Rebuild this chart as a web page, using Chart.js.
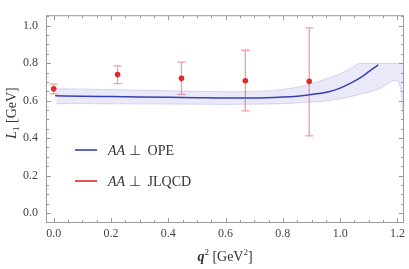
<!DOCTYPE html>
<html>
<head>
<meta charset="utf-8">
<script src="https://cdn.jsdelivr.net/npm/chart.js@4"></script>
<style>
  html, body { margin: 0; padding: 0; background: #fff; }
  #wrap { width: 409px; height: 269px; }
</style>
</head>
<body>
<div id="wrap"><canvas id="chart"></canvas></div>
<script>
// lattice points (JLQCD) with error bars
const qPts = [0, 0.223, 0.446, 0.669, 0.892];
const lPts = [0.663, 0.739, 0.719, 0.706, 0.703];
const lLo  = [0.636, 0.691, 0.633, 0.545, 0.412];
const lHi  = [0.688, 0.786, 0.806, 0.869, 0.988];

// OPE central curve
const opeQ = [0.005, 0.1, 0.2, 0.3, 0.4, 0.5, 0.6, 0.7, 0.8, 0.85, 0.9, 0.96, 1.0, 1.04, 1.075, 1.1, 1.133];
const opeL = [0.626, 0.624, 0.622, 0.620, 0.618, 0.616, 0.614, 0.614, 0.619, 0.624, 0.633, 0.648, 0.667, 0.696, 0.727, 0.755, 0.791];

// OPE uncertainty band
const bandQ  = [0.009, 0.2, 0.4, 0.6, 0.8, 0.889, 0.96, 1.0, 1.04, 1.069, 1.1, 1.142, 1.177, 1.19, 1.205, 1.211, 1.216, 1.223];
const bandHi = [0.664, 0.659, 0.653, 0.648, 0.660, 0.686, 0.721, 0.744, 0.774, 0.799, 0.799, 0.799, 0.799, 0.799, 0.799, 0.799, 0.799, 0.799];
const bandLo = [0.584, 0.583, 0.582, 0.580, 0.584, 0.591, 0.600, 0.610, 0.622, 0.634, 0.645, 0.668, 0.700, 0.708, 0.695, 0.660, 0.600, 0.460];

// ticks
const xTicks = [0, 0.2, 0.4, 0.6, 0.8, 1.0, 1.2];
const yTicks = [0, 0.2, 0.4, 0.6, 0.8, 1.0];

const SERIF = "'Times New Roman', 'Liberation Serif', Times, serif";
const BLUE = '#3441b0';
const RED = '#dc2a2a';

const zip = (xs, ys) => xs.map((x, i) => ({ x: x, y: ys[i] }));

/* error bars under the red dots */
const errorBars = {
  id: 'errorBars',
  beforeDatasetDraw(chart, args) {
    if (args.index !== 0) return;
    const { ctx, scales: { x, y } } = chart;
    ctx.save();
    ctx.strokeStyle = 'rgba(226,80,80,0.55)';
    ctx.lineWidth = 1.3;
    qPts.forEach((q, i) => {
      const px = x.getPixelForValue(q);
      const top = y.getPixelForValue(lHi[i]);
      const bot = y.getPixelForValue(lLo[i]);
      ctx.beginPath();
      ctx.moveTo(px, top); ctx.lineTo(px, bot);
      ctx.moveTo(px - 4, top); ctx.lineTo(px + 4, top);
      ctx.moveTo(px - 4, bot); ctx.lineTo(px + 4, bot);
      ctx.stroke();
    });
    ctx.restore();
  }
};

/* mathematica-like frame, inner ticks, legend and axis titles */
const frameStuff = {
  id: 'frameStuff',
  afterDraw(chart) {
    const { ctx, chartArea: a, scales: { x, y } } = chart;
    ctx.save();
    ctx.strokeStyle = '#9a9a9a';
    ctx.lineWidth = 1;
    ctx.strokeRect(a.left + 0.5, a.top + 0.5, a.right - a.left - 1, a.bottom - a.top - 1);

    ctx.beginPath();
    for (let k = -1; k <= 25; k++) {
      const v = k * 0.05;
      if (v < x.min || v > x.max) continue;
      const len = k % 4 === 0 ? 5 : 3;
      const px = Math.round(x.getPixelForValue(v)) + 0.5;
      ctx.moveTo(px, a.bottom); ctx.lineTo(px, a.bottom - len);
      ctx.moveTo(px, a.top); ctx.lineTo(px, a.top + len);
    }
    for (let k = -1; k <= 21; k++) {
      const v = k * 0.05;
      if (v < y.min || v > y.max) continue;
      const len = k % 4 === 0 ? 5 : 3;
      const py = Math.round(y.getPixelForValue(v)) + 0.5;
      ctx.moveTo(a.left, py); ctx.lineTo(a.left + len, py);
      ctx.moveTo(a.right, py); ctx.lineTo(a.right - len, py);
    }
    ctx.stroke();

    // legend
    const legend = [
      { color: BLUE, label: ' \u22A5  OPE', y: 150 },
      { color: RED, label: ' \u22A5  JLQCD', y: 181 }
    ];
    ctx.textBaseline = 'middle';
    legend.forEach(item => {
      ctx.strokeStyle = item.color;
      ctx.lineWidth = 1.6;
      ctx.beginPath();
      ctx.moveTo(75, item.y); ctx.lineTo(97, item.y);
      ctx.stroke();
      ctx.fillStyle = '#333';
      ctx.font = 'italic 14px ' + SERIF;
      ctx.fillText('AA', 108, item.y + 1);
      const w = ctx.measureText('AA').width;
      ctx.font = '14px ' + SERIF;
      ctx.fillText(item.label, 108 + w, item.y + 1);
    });

    // x title: q^2 [GeV^2]
    ctx.fillStyle = '#333';
    ctx.textBaseline = 'alphabetic';
    const parts = [
      ['bold italic 14px ' + SERIF, 'q', 0],
      ['9px ' + SERIF, '2', -6],
      ['14px ' + SERIF, ' [GeV', 0],
      ['9px ' + SERIF, '2', -6],
      ['14px ' + SERIF, ']', 0]
    ];
    let total = 0;
    parts.forEach(p => { ctx.font = p[0]; total += ctx.measureText(p[1]).width; });
    let cx = (a.left + a.right) / 2 - total / 2;
    parts.forEach(p => {
      ctx.font = p[0];
      ctx.fillText(p[1], cx, 261 + p[2]);
      cx += ctx.measureText(p[1]).width;
    });

    // y title: L_1 [GeV]
    ctx.translate(16, 113);
    ctx.rotate(-Math.PI / 2);
    const yParts = [
      ['italic 14px ' + SERIF, 'L', 0],
      ['9px ' + SERIF, '1', 3],
      ['14px ' + SERIF, ' [GeV]', 0]
    ];
    total = 0;
    yParts.forEach(p => { ctx.font = p[0]; total += ctx.measureText(p[1]).width; });
    cx = -total / 2;
    yParts.forEach(p => {
      ctx.font = p[0];
      ctx.fillText(p[1], cx, p[2]);
      cx += ctx.measureText(p[1]).width;
    });
    ctx.restore();
  }
};

Chart.defaults.font.family = SERIF;
Chart.defaults.font.size = 12;
Chart.defaults.color = '#444';

new Chart(document.getElementById('chart'), {
  type: 'line',
  data: {
    datasets: [
      {
        label: 'AA \u22A5 JLQCD',
        data: zip(qPts, lPts),
        showLine: false,
        pointRadius: 2.8,
        pointBackgroundColor: RED,
        pointBorderWidth: 0
      },
      {
        label: 'AA \u22A5 OPE',
        data: zip(opeQ, opeL),
        borderColor: BLUE,
        borderWidth: 1.5,
        pointRadius: 0,
        cubicInterpolationMode: 'monotone',
        fill: false
      },
      {
        label: 'band hi',
        data: zip(bandQ, bandHi),
        borderColor: 'rgba(120,120,215,0.25)',
        borderWidth: 1,
        pointRadius: 0,
        cubicInterpolationMode: 'monotone',
        fill: false
      },
      {
        label: 'band lo',
        data: zip(bandQ, bandLo),
        borderColor: 'rgba(120,120,215,0.25)',
        borderWidth: 1,
        pointRadius: 0,
        cubicInterpolationMode: 'monotone',
        fill: { target: 2 },
        backgroundColor: 'rgba(110,110,215,0.15)'
      }
    ]
  },
  options: {
    responsive: true,
    maintainAspectRatio: false,
    animation: false,
    events: [],
    layout: { padding: { top: 1, right: 3, left: 0, bottom: 0 } },
    scales: {
      x: {
        type: 'linear',
        min: -0.027,
        max: 1.223,
        afterBuildTicks: s => { s.ticks = xTicks.map(v => ({ value: v })); },
        afterFit: s => { s.height = 46; },
        ticks: { padding: 4, maxRotation: 0, callback: v => v.toFixed(1) },
        grid: { display: false, drawTicks: false },
        border: { display: false }
      },
      y: {
        type: 'linear',
        min: -0.053,
        max: 1.056,
        afterBuildTicks: s => { s.ticks = yTicks.map(v => ({ value: v })); },
        afterFit: s => { s.width = 46; },
        ticks: { padding: 8, callback: v => v.toFixed(1) },
        grid: { display: false, drawTicks: false },
        border: { display: false }
      }
    },
    plugins: {
      legend: { display: false },
      tooltip: { enabled: false }
    }
  },
  plugins: [errorBars, frameStuff]
});
</script>
</body>
</html>
